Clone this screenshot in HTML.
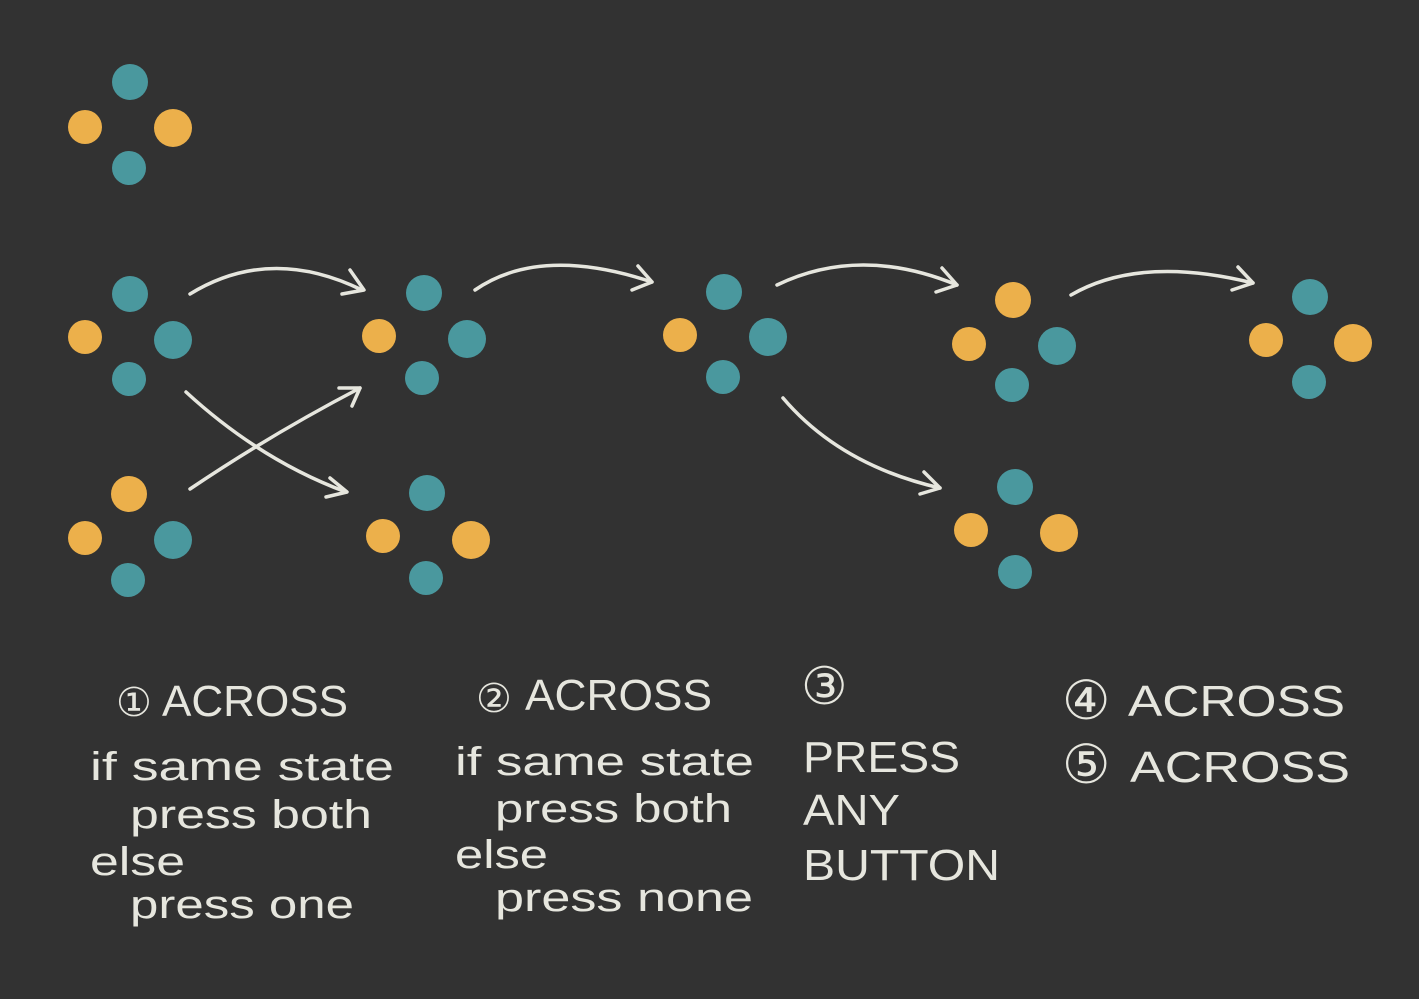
<!DOCTYPE html>
<html><head><meta charset="utf-8"><style>
html,body{margin:0;padding:0;background:#323232;}
svg{display:block}
text{font-family:"Liberation Sans","DejaVu Sans",sans-serif;fill:#e6e6de;}
</style></head><body>
<svg width="1419" height="999" viewBox="0 0 1419 999" xmlns="http://www.w3.org/2000/svg">
<rect width="1419" height="999" fill="#323232"/>
<g id="dots">
<circle cx="130" cy="82" r="18" fill="#4a989e"/><circle cx="85" cy="127" r="17" fill="#ecb04b"/><circle cx="173" cy="128" r="19" fill="#ecb04b"/><circle cx="129" cy="168" r="17" fill="#4a989e"/>
<circle cx="130" cy="294" r="18" fill="#4a989e"/><circle cx="85" cy="337" r="17" fill="#ecb04b"/><circle cx="173" cy="340" r="19" fill="#4a989e"/><circle cx="129" cy="379" r="17" fill="#4a989e"/>
<circle cx="129" cy="494" r="18" fill="#ecb04b"/><circle cx="85" cy="538" r="17" fill="#ecb04b"/><circle cx="173" cy="540" r="19" fill="#4a989e"/><circle cx="128" cy="580" r="17" fill="#4a989e"/>
<circle cx="424" cy="293" r="18" fill="#4a989e"/><circle cx="379" cy="336" r="17" fill="#ecb04b"/><circle cx="467" cy="339" r="19" fill="#4a989e"/><circle cx="422" cy="378" r="17" fill="#4a989e"/>
<circle cx="427" cy="493" r="18" fill="#4a989e"/><circle cx="383" cy="536" r="17" fill="#ecb04b"/><circle cx="471" cy="540" r="19" fill="#ecb04b"/><circle cx="426" cy="578" r="17" fill="#4a989e"/>
<circle cx="724" cy="292" r="18" fill="#4a989e"/><circle cx="680" cy="335" r="17" fill="#ecb04b"/><circle cx="768" cy="337" r="19" fill="#4a989e"/><circle cx="723" cy="377" r="17" fill="#4a989e"/>
<circle cx="1013" cy="300" r="18" fill="#ecb04b"/><circle cx="969" cy="344" r="17" fill="#ecb04b"/><circle cx="1057" cy="346" r="19" fill="#4a989e"/><circle cx="1012" cy="385" r="17" fill="#4a989e"/>
<circle cx="1015" cy="487" r="18" fill="#4a989e"/><circle cx="971" cy="530" r="17" fill="#ecb04b"/><circle cx="1059" cy="533" r="19" fill="#ecb04b"/><circle cx="1015" cy="572" r="17" fill="#4a989e"/>
<circle cx="1310" cy="297" r="18" fill="#4a989e"/><circle cx="1266" cy="340" r="17" fill="#ecb04b"/><circle cx="1353" cy="343" r="19" fill="#ecb04b"/><circle cx="1309" cy="382" r="17" fill="#4a989e"/>
</g>
<g fill="none" stroke="#e6e6de" stroke-width="3.5" stroke-linecap="round" stroke-linejoin="round">
<path d="M190,294 Q270,245 362,290"/><path d="M350,270 L364,290 L342,294"/>
<path d="M475,290 Q540,245 652,282"/><path d="M638,266 L652,282 L632,290"/>
<path d="M777,285 Q860,245 957,285"/><path d="M942,268 L957,285 L936,292"/>
<path d="M1071,295 Q1140,255 1253,283"/><path d="M1238,267 L1253,283 L1232,290"/>
<path d="M186,392 Q260,460 346,492"/><path d="M330,478 L347,492 L326,497"/>
<path d="M190,489 Q270,435 360,388"/><path d="M339,388 L360,388 L352,406"/>
<path d="M783,398 Q840,465 940,488"/><path d="M924,472 L940,488 L920,494"/>
</g>
<g font-size="44">
<text x="116" y="716" font-size="40">①</text><text x="162" y="716" textLength="186" lengthAdjust="spacingAndGlyphs">ACROSS</text>
<text x="476" y="712" font-size="40">②</text><text x="525" y="710" textLength="187" lengthAdjust="spacingAndGlyphs">ACROSS</text>
<text x="801" y="704" font-size="52">③</text>
<text x="803" y="772" textLength="157" lengthAdjust="spacingAndGlyphs">PRESS</text>
<text x="803" y="825" textLength="97" lengthAdjust="spacingAndGlyphs">ANY</text>
<text x="803" y="880" textLength="197" lengthAdjust="spacingAndGlyphs">BUTTON</text>
<text x="1062" y="719" font-size="54">④</text><text x="1128" y="716" textLength="217" lengthAdjust="spacingAndGlyphs">ACROSS</text>
<text x="1062" y="783" font-size="54">⑤</text><text x="1130" y="782" textLength="220" lengthAdjust="spacingAndGlyphs">ACROSS</text>
</g>
<g font-size="40">
<text x="90" y="780" textLength="304" lengthAdjust="spacingAndGlyphs">if same state</text>
<text x="130" y="828" textLength="242" lengthAdjust="spacingAndGlyphs">press both</text>
<text x="90" y="875" textLength="95" lengthAdjust="spacingAndGlyphs">else</text>
<text x="130" y="918" textLength="224" lengthAdjust="spacingAndGlyphs">press one</text>
<text x="455" y="775" textLength="299" lengthAdjust="spacingAndGlyphs">if same state</text>
<text x="495" y="822" textLength="237" lengthAdjust="spacingAndGlyphs">press both</text>
<text x="455" y="868" textLength="93" lengthAdjust="spacingAndGlyphs">else</text>
<text x="495" y="911" textLength="258" lengthAdjust="spacingAndGlyphs">press none</text>
</g>
</svg>
</body></html>
